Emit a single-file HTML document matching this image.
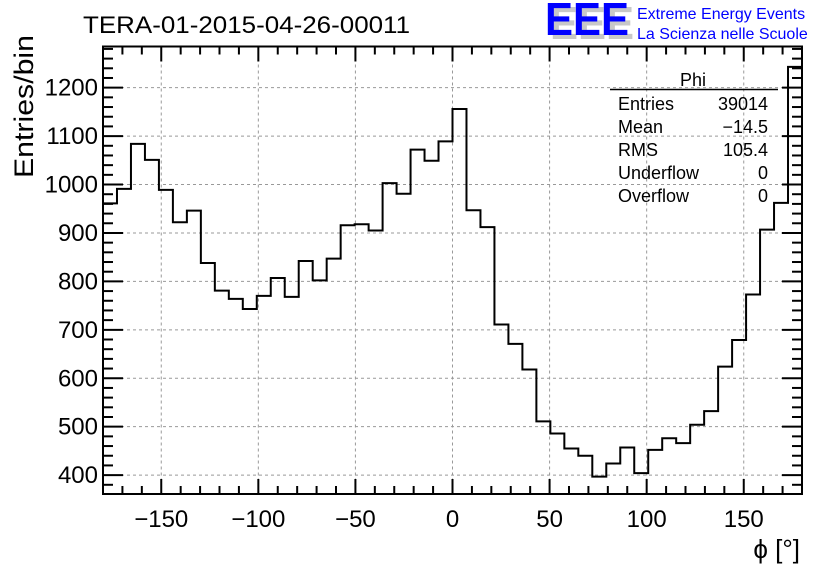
<!DOCTYPE html>
<html><head><meta charset="utf-8"><style>
body{margin:0;background:#fff;}
svg{display:block;font-family:"Liberation Sans",Arial,sans-serif;}
</style></head><body>
<svg id="c" width="836" height="572" viewBox="0 0 836 572">
<rect width="836" height="572" fill="#fff"/>
<text x="83" y="33" font-size="24" textLength="327" lengthAdjust="spacingAndGlyphs">TERA-01-2015-04-26-00011</text>
<g>
<text x="550" y="39" font-size="46" font-weight="bold" fill="#c8c8c8" textLength="84" lengthAdjust="spacingAndGlyphs">EEE</text>
<text x="545" y="35" font-size="46" font-weight="bold" fill="#0000ff" textLength="84" lengthAdjust="spacingAndGlyphs">EEE</text>
<text x="637" y="19" font-size="16" fill="#0000ff">Extreme Energy Events</text>
<text x="637" y="39" font-size="16" fill="#0000ff">La Scienza nelle Scuole</text>
</g>
<g id="grid"></g>
<g id="hist"></g>
<g id="axes"></g>
<text x="0" y="0" font-size="27" textLength="143" lengthAdjust="spacingAndGlyphs" transform="translate(33,178) rotate(-90)">Entries/bin</text>
<text x="800" y="558" font-size="26" text-anchor="end">ϕ [°]</text>
<g font-size="18">
<text x="693" y="86" text-anchor="middle">Phi</text>
<line x1="610" y1="89.5" x2="778" y2="89.5" stroke="#000" stroke-width="1.5"/>
<text x="618" y="110">Entries</text><text x="768" y="110" text-anchor="end">39014</text>
<text x="618" y="133">Mean</text><text x="768" y="133" text-anchor="end">−14.5</text>
<text x="618" y="156">RMS</text><text x="768" y="156" text-anchor="end">105.4</text>
<text x="618" y="179">Underflow</text><text x="768" y="179" text-anchor="end">0</text>
<text x="618" y="202">Overflow</text><text x="768" y="202" text-anchor="end">0</text>
</g>
</svg>
<script>
const counts = [961,991,1084,1051,989,922,946,838,781,764,743,770,807,768,842,802,847,916,918,905,1003,981,1072,1049,1089,1156,947,912,711,671,618,511,486,455,440,397,424,457,404,452,476,466,504,532,624,679,773,907,962,1243];
const xTicks = [-150,-100,-50,0,50,100,150];
const yTicks = [400,500,600,700,800,900,1000,1100,1200];
const xMin=-180,xMax=180,yMin=361,yMax=1285;
const L=103,R=802,T=46.5,B=494;
const NS='http://www.w3.org/2000/svg';
const X=v=>L+(v-xMin)/(xMax-xMin)*(R-L);
const Y=v=>B-(v-yMin)/(yMax-yMin)*(B-T);
function mk(tag,attrs,parent){const e=document.createElementNS(NS,tag);for(const k in attrs)e.setAttribute(k,attrs[k]);parent.appendChild(e);return e;}
const grid=document.getElementById('grid'),hist=document.getElementById('hist'),axes=document.getElementById('axes');
xTicks.forEach(t=>{const l=mk('line',{x1:X(t),x2:X(t),y1:T,y2:B,stroke:'#999','stroke-dasharray':'3,3','stroke-width':1},grid);

});
yTicks.forEach(t=>{const l=mk('line',{x1:L,x2:R,y1:Y(t),y2:Y(t),stroke:'#999','stroke-dasharray':'3,3','stroke-width':1},grid);

});
const n=counts.length,w=(xMax-xMin)/n;
let d='M'+X(xMin)+','+Y(counts[0]);
counts.forEach((c,i)=>{d+=' L'+X(xMin+i*w)+','+Y(c)+' L'+X(xMin+(i+1)*w)+','+Y(c);});
const p=mk('path',{d:d,fill:'none',stroke:'#000','stroke-width':2},hist);


const fr=mk('rect',{x:L,y:T,width:R-L,height:B-T,fill:'none',stroke:'#000','stroke-width':2},axes);


for(let v=-180;v<=180;v+=10){const maj=v%50===0;const len=maj?15:8;
mk('line',{x1:X(v),x2:X(v),y1:B,y2:B-len,stroke:'#000','stroke-width':2},axes);
mk('line',{x1:X(v),x2:X(v),y1:T,y2:T+len,stroke:'#000','stroke-width':2},axes);}
xTicks.forEach(t=>{const tx=mk('text',{x:X(t),y:527,'font-size':24,'text-anchor':'middle'},axes);tx.textContent=(t<0?'−':'')+Math.abs(t);

});
for(let v=380;v<=1280;v+=20){const maj=v%100===0;const len=maj?20:10;
mk('line',{x1:L,x2:L+len,y1:Y(v),y2:Y(v),stroke:'#000','stroke-width':2},axes);
mk('line',{x1:R,x2:R-len,y1:Y(v),y2:Y(v),stroke:'#000','stroke-width':2},axes);}
yTicks.forEach(t=>{const tx=mk('text',{x:98,y:Y(t)+8,'font-size':24,'text-anchor':'end'},axes);tx.textContent=t;

});
</script>
</body></html>
